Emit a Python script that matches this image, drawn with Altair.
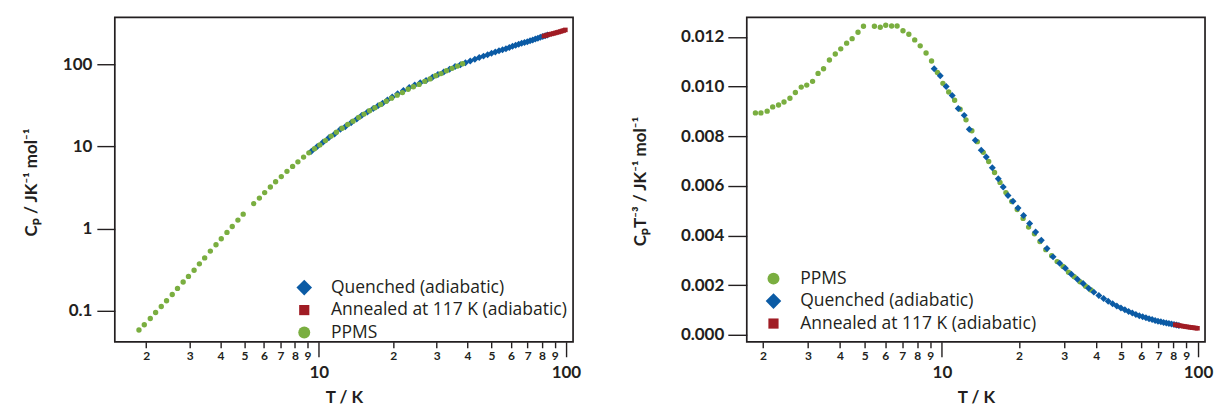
import altair as alt
import pandas as pd

# ---------------- data ----------------
# PPMS (green circles): temperature / K and Cp T^-3 / J K^-4 mol^-1
ppms_T = [1.87, 1.965, 2.078, 2.184, 2.302, 2.418, 2.550, 2.678, 2.823, 2.966,
          3.126, 3.284, 3.450, 3.637, 3.834, 4.027, 4.246, 4.461, 4.703, 4.940,
          5.450, 5.745, 6.035, 6.363, 6.683, 7.047, 7.428, 7.830, 8.227, 8.672,
          9.110, 9.603, 10.09, 10.63, 11.21, 11.78, 12.42, 13.09, 13.75, 14.50,
          15.23, 16.05, 16.86, 17.78, 18.74, 19.68, 20.75, 21.80, 22.98, 24.14,
          25.45, 26.83, 28.18, 29.71, 31.21, 32.86, 34.6, 36.4, 38.2]
ppms_cpt3 = [0.00894, 0.00894, 0.00901, 0.00918, 0.00926, 0.00938, 0.00953, 0.00976, 0.00998, 0.01006,
             0.01021, 0.01053, 0.01072, 0.01107, 0.01131, 0.01152, 0.01175, 0.01193, 0.01219, 0.01243,
             0.01243, 0.01239, 0.01247, 0.01244, 0.01244, 0.01225, 0.01211, 0.01188, 0.01164, 0.01135,
             0.01103, 0.01057, 0.01013, 0.00978, 0.00945, 0.00909, 0.00866, 0.00822, 0.00778, 0.00735,
             0.00698, 0.00654, 0.00614, 0.00573, 0.00537, 0.00505, 0.00469, 0.00434, 0.00407, 0.00376,
             0.00343, 0.00319, 0.00295, 0.00275, 0.00252, 0.00234, 0.00214, 0.00196, 0.00181]

# Quenched (adiabatic) (blue diamonds)
quenched_T = [9.33, 9.85, 10.39, 10.97, 11.58, 12.22, 12.79, 13.50, 14.24, 14.90,
              15.73, 16.60, 17.35, 18.12, 18.95, 19.82, 20.84, 22.00, 23.22, 24.44,
              25.73, 27.16, 28.83, 30.34, 32.03, 33.81, 35.6, 37.4, 39.2, 41.0,
              42.8, 44.6, 46.4, 48.2, 50.0, 51.8, 53.6, 55.4, 57.2, 59.0,
              60.8, 62.6, 64.4, 66.2, 68.0, 69.8, 71.6, 73.4, 75.2, 77.0,
              78.8, 80.6, 82.4, 84.2]
quenched_cpt3 = [0.01072, 0.01044, 0.01000, 0.00964, 0.00912, 0.00884, 0.00828, 0.00784, 0.00744, 0.00716,
                 0.00673, 0.00629, 0.00595, 0.00561, 0.00538, 0.00511, 0.00481, 0.00448, 0.00414, 0.00381,
                 0.00348, 0.00314, 0.00288, 0.00268, 0.00244, 0.00224, 0.00207, 0.00188, 0.00172, 0.00158,
                 0.00146, 0.00135, 0.00125, 0.00116, 0.00108, 0.00101, 0.000940, 0.000875, 0.000818, 0.000773,
                 0.000730, 0.000690, 0.000650, 0.000615, 0.000580, 0.000550, 0.000522, 0.000497, 0.000473, 0.000452,
                 0.000432, 0.000413, 0.000395, 0.000378]

# Annealed at 117 K (adiabatic) (red squares)
annealed_T = [81.5, 83.0, 84.5, 86.0, 87.5, 89.0, 90.5, 92.0, 93.5, 95.0, 96.5, 98.0, 99.5]
annealed_cpt3 = [0.000405, 0.000389, 0.000375, 0.000361, 0.000347, 0.000334, 0.000322,
                 0.000311, 0.000300, 0.000290, 0.000281, 0.000272, 0.000264]

S_PPMS = "PPMS"
S_Q = "Quenched (adiabatic)"
S_A = "Annealed at 117 K (adiabatic)"

series_color = {S_PPMS: "#7aae40", S_Q: "#0b5ba5", S_A: "#a01c24"}
series_shape = {S_PPMS: "circle",
                S_Q: "M-1.3,0L0,-1.3L1.3,0L0,1.3Z",
                S_A: "M-0.85,-0.85L0.85,-0.85L0.85,0.85L-0.85,0.85Z"}

df_ppms = pd.DataFrame({"T": ppms_T, "cpt3": ppms_cpt3, "series": S_PPMS})
df_q = pd.DataFrame({"T": quenched_T, "cpt3": quenched_cpt3, "series": S_Q})
df_a = pd.DataFrame({"T": annealed_T, "cpt3": annealed_cpt3, "series": S_A})

minor_ticks = [2, 3, 4, 5, 6, 7, 8, 9, 20, 30, 40, 50, 60, 70, 80, 90]
major_ticks = [10, 100]

FONT = "Lato"
LEGEND_FONT = "Open Sans"
INK = "#231f20"
W, H = 459, 325


def minor_axis():
    return alt.Axis(orient="bottom", values=minor_ticks,
                    labelExpr="datum.value < 10 ? format(datum.value, 'd') : format(datum.value / 10, 'd')",
                    tickSize=6, labelFontSize=12, labelFontWeight="bold", labelPadding=3,
                    title=None, grid=False, domain=False, labelOverlap=False, labelFlush=False)


def major_axis():
    return alt.Axis(orient="bottom", values=major_ticks, format="d",
                    tickSize=15, labelFontSize=17, labelFontWeight="bold", labelPadding=8,
                    title="T / K", titleFontSize=17, titleFontWeight="bold",
                    titleY=56, titleBaseline="middle",
                    grid=False, domain=False, labelOverlap=False, labelFlush=False)


def make_panel(order, draw_order, xdomain, yfield, yscale, yaxis, legend_xy, calc=None):
    legend = alt.Legend(orient="none", legendX=legend_xy[0], legendY=legend_xy[1], title=None,
                        labelFont=LEGEND_FONT, labelFontSize=17.5, labelColor=INK, symbolSize=144,
                        labelOffset=18, rowPadding=3.5, padding=0, symbolStrokeWidth=0,
                        symbolOpacity=1, labelLimit=0)
    cscale = alt.Scale(domain=order, range=[series_color[s] for s in order])
    sscale = alt.Scale(domain=order, range=[series_shape[s] for s in order])
    xscale = alt.Scale(type="log", domain=xdomain, nice=False)
    layers = []
    for i, df in enumerate(draw_order):
        if i == 0:
            xa = minor_axis()
        elif i == 1:
            xa = major_axis()
        else:
            xa = None
        base = alt.Chart(df)
        if calc is not None:
            base = base.transform_calculate(**calc)
        layer = base.mark_point(filled=True, size=29, opacity=1, strokeWidth=0).encode(
            x=alt.X("T:Q", scale=xscale, axis=xa),
            y=alt.Y(yfield, scale=yscale, axis=yaxis),
            color=alt.Color("series:N", scale=cscale, legend=legend),
            shape=alt.Shape("series:N", scale=sscale, legend=legend),
        )
        layers.append(layer)
    return alt.layer(*layers).resolve_axis(x="independent").properties(width=W, height=H)


left_yaxis = alt.Axis(values=[0.1, 1, 10, 100], format="~g", tickSize=18, labelPadding=5,
                      labelFontSize=17, labelFontWeight="bold",
                      title="Cₚ / JK⁻¹ mol⁻¹", titleFontSize=17, titleFontWeight="bold",
                      titleX=-83, titleY=165, titleBaseline="middle", titleAngle=270,
                      grid=False, domain=False)
right_yaxis = alt.Axis(values=[0, 0.002, 0.004, 0.006, 0.008, 0.010, 0.012], format=".3f",
                       tickSize=19, labelPadding=4, labelFontSize=17, labelFontWeight="bold",
                       title="CₚT⁻³ / JK⁻¹ mol⁻¹", titleFontSize=17, titleFontWeight="bold",
                       titleX=-106, titleY=164, titleBaseline="middle", titleAngle=270,
                       grid=False, domain=False)

left = make_panel(
    order=[S_Q, S_A, S_PPMS],
    draw_order=[df_q, df_a, df_ppms],
    xdomain=[1.493, 106.9],
    yfield="cp:Q",
    yscale=alt.Scale(type="log", domain=[0.0421, 370], nice=False),
    yaxis=left_yaxis,
    legend_xy=(181, 262),
    calc={"cp": "datum.cpt3 * pow(datum.T, 3)"},
)

right = make_panel(
    order=[S_PPMS, S_Q, S_A],
    draw_order=[df_ppms, df_q, df_a],
    xdomain=[1.73, 106.5],
    yfield="cpt3:Q",
    yscale=alt.Scale(type="linear", domain=[-0.00028, 0.01279], nice=False, zero=False),
    yaxis=right_yaxis,
    legend_xy=(18, 253),
)

chart = alt.hconcat(left, right, spacing=174, bounds="flush").resolve_scale(
    x="independent", y="independent", color="independent", shape="independent"
).resolve_legend(color="independent", shape="independent").properties(
    padding={"left": 22, "top": 16, "right": 5, "bottom": 5},
    background="white",
).configure_view(
    stroke=INK, strokeWidth=1.7
).configure_axis(
    tickColor=INK, tickWidth=1.4, labelColor=INK, titleColor=INK,
    labelFont=FONT, titleFont=FONT
)

chart.save("out.html", embed_options={"renderer": "svg", "actions": False})
